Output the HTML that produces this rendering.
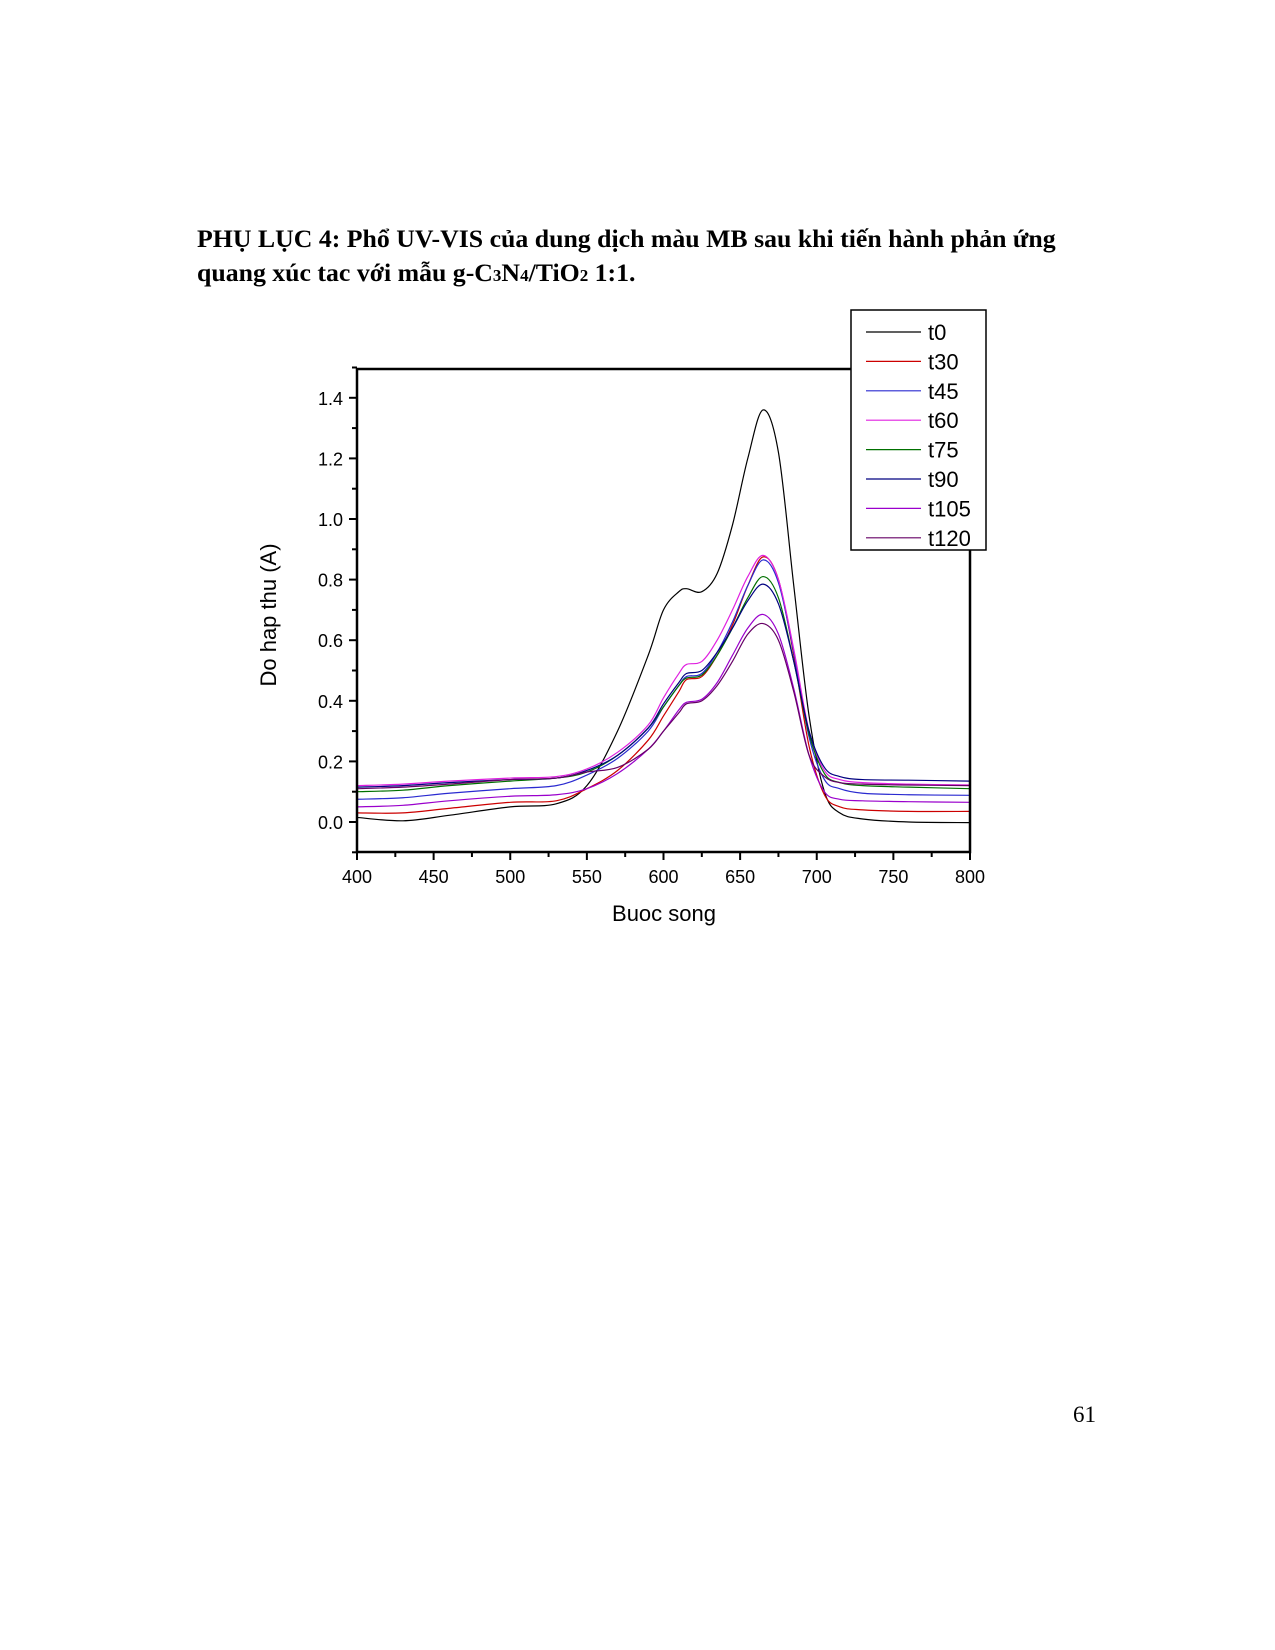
<!DOCTYPE html>
<html><head><meta charset="utf-8"><style>
body{margin:0;width:1275px;height:1650px;background:#fff;position:relative;overflow:hidden}
.t{position:absolute;font-family:"Liberation Serif","DejaVu Serif",serif;color:#000}
</style></head><body>
<div class="t" style="left:197px;top:222px;font-size:25.8px;font-weight:bold;line-height:34px;width:960px;white-space:nowrap">PHỤ LỤC 4: Phổ UV-VIS của dung dịch màu MB sau khi tiến hành phản ứng<br>quang xúc tac với mẫu g-C<span style="font-size:17px">3</span>N<span style="font-size:17px">4</span>/TiO<span style="font-size:17px">2</span> 1:1.</div>
<div class="t" style="left:1073px;top:1402px;font-size:23px">61</div>
<svg id="chart" width="1275" height="1650" style="position:absolute;left:0;top:0" font-family="Liberation Sans, Arial, sans-serif"></svg>
<script>
const wavelengths=[400,430,460,500,530,550,570,590,600,610,615,625,635,645,655,665,675,685,695,705,715,730,760,800];
const seriesNames=["t0","t30","t45","t60","t75","t90","t105","t120"];
const t0=[0.015,0.004,0.022,0.05,0.06,0.12,0.30,0.55,0.70,0.76,0.77,0.76,0.82,0.98,1.20,1.36,1.22,0.78,0.35,0.10,0.03,0.01,0.0,-0.002];
const t30=[0.03,0.03,0.045,0.065,0.07,0.11,0.17,0.27,0.35,0.43,0.47,0.48,0.55,0.65,0.78,0.875,0.80,0.55,0.25,0.09,0.05,0.04,0.035,0.035];
const t45=[0.075,0.08,0.095,0.11,0.12,0.155,0.21,0.30,0.38,0.45,0.48,0.49,0.56,0.66,0.78,0.865,0.79,0.56,0.28,0.14,0.11,0.095,0.09,0.088];
const t60=[0.12,0.125,0.135,0.145,0.15,0.175,0.23,0.32,0.41,0.49,0.52,0.53,0.60,0.70,0.81,0.88,0.80,0.57,0.30,0.17,0.14,0.13,0.125,0.122];
const t75=[0.10,0.105,0.12,0.135,0.145,0.165,0.22,0.31,0.38,0.45,0.475,0.485,0.55,0.64,0.74,0.81,0.74,0.53,0.29,0.16,0.13,0.12,0.115,0.11];
const t90=[0.115,0.12,0.13,0.14,0.145,0.17,0.22,0.31,0.39,0.46,0.49,0.50,0.56,0.64,0.73,0.785,0.72,0.53,0.30,0.18,0.15,0.14,0.138,0.135];
const t105=[0.05,0.055,0.07,0.085,0.09,0.11,0.16,0.24,0.30,0.37,0.395,0.405,0.46,0.55,0.64,0.685,0.62,0.44,0.22,0.10,0.075,0.07,0.067,0.065];
const t120=[0.11,0.115,0.125,0.14,0.145,0.165,0.18,0.24,0.30,0.36,0.39,0.40,0.45,0.53,0.62,0.655,0.60,0.43,0.22,0.15,0.13,0.125,0.122,0.12];
const xTicks=[400,450,500,550,600,650,700,750,800];
const yTicks=[0.0,0.2,0.4,0.6,0.8,1.0,1.2,1.4];
const colors=["#000000","#cc0000","#2a2ad0","#e020e0","#007000","#000080","#9a00cc","#660066"];
const allSeries=[t0,t30,t45,t60,t75,t90,t105,t120];
const NS="http://www.w3.org/2000/svg";
const svg=document.getElementById('chart');
const L=357,R=970,T=369,B=852;
const xs=v=>L+(v-400)*(R-L)/400;
const ys=v=>822-v*303;
function mk(tag,attrs,parent){const e=document.createElementNS(NS,tag);for(const k in attrs)e.setAttribute(k,attrs[k]);(parent||svg).appendChild(e);return e;}
const clip=mk('clipPath',{id:'pc'});mk('rect',{x:L,y:T,width:R-L,height:B-T},clip);
allSeries.forEach((s,i)=>{
  const p=wavelengths.map((w,j)=>[xs(w),ys(s[j])]);
  let d=`M${p[0][0]},${p[0][1]}`;
  for(let j=0;j<p.length-1;j++){
    const p0=p[Math.max(0,j-1)],p1=p[j],p2=p[j+1],p3=p[Math.min(p.length-1,j+2)];
    const c1=[p1[0]+(p2[0]-p0[0])/6,p1[1]+(p2[1]-p0[1])/6];
    const c2=[p2[0]-(p3[0]-p1[0])/6,p2[1]-(p3[1]-p1[1])/6];
    d+=` C${c1[0]},${c1[1]} ${c2[0]},${c2[1]} ${p2[0]},${p2[1]}`;
  }
  const path=mk('path',{d:d,fill:'none',stroke:colors[i],'stroke-width':1.2,'clip-path':'url(#pc)'});
  
  
});
const frame=mk('rect',{x:L,y:T,width:R-L,height:B-T,fill:'none',stroke:'#000','stroke-width':2.5});


xTicks.forEach((v,i)=>{
  mk('line',{x1:xs(v),x2:xs(v),y1:B,y2:B+8,stroke:'#000','stroke-width':2});
  if(i<xTicks.length-1){const m=v+25;mk('line',{x1:xs(m),x2:xs(m),y1:B,y2:B+5,stroke:'#000','stroke-width':2});}
  const t=mk('text',{x:xs(v),y:B+31,'text-anchor':'middle','font-size':18});t.textContent=v;
  
  
});
yTicks.forEach(v=>{
  mk('line',{x1:L-8,x2:L,y1:ys(v),y2:ys(v),stroke:'#000','stroke-width':2});
  mk('line',{x1:L-5,x2:L,y1:ys(v+0.1),y2:ys(v+0.1),stroke:'#000','stroke-width':2});
  const t=mk('text',{x:L-14,y:ys(v)+7,'text-anchor':'end','font-size':18});t.textContent=v.toFixed(1);
  
  
});
mk('line',{x1:L-5,x2:L,y1:ys(-0.1),y2:ys(-0.1),stroke:'#000','stroke-width':2});
const xt=mk('text',{x:664,y:921,'text-anchor':'middle','font-size':22});xt.textContent='Buoc song';


const yt=mk('text',{x:0,y:0,'text-anchor':'middle','font-size':22,transform:'translate(276,615) rotate(-90)'});yt.textContent='Do hap thu (A)';


const lg=mk('g',{});


mk('rect',{x:851,y:310,width:135,height:240,fill:'#fff',stroke:'#000','stroke-width':1.5},lg);
seriesNames.forEach((n,i)=>{
  const y=332+i*29.4;
  const g=mk('g',{},lg);
  
  
  mk('line',{x1:866,x2:921,y1:y,y2:y,stroke:colors[i],'stroke-width':1.2},g);
  const t=mk('text',{x:928,y:y+8,'font-size':22},g);t.textContent=n;
});
</script>
</body></html>
